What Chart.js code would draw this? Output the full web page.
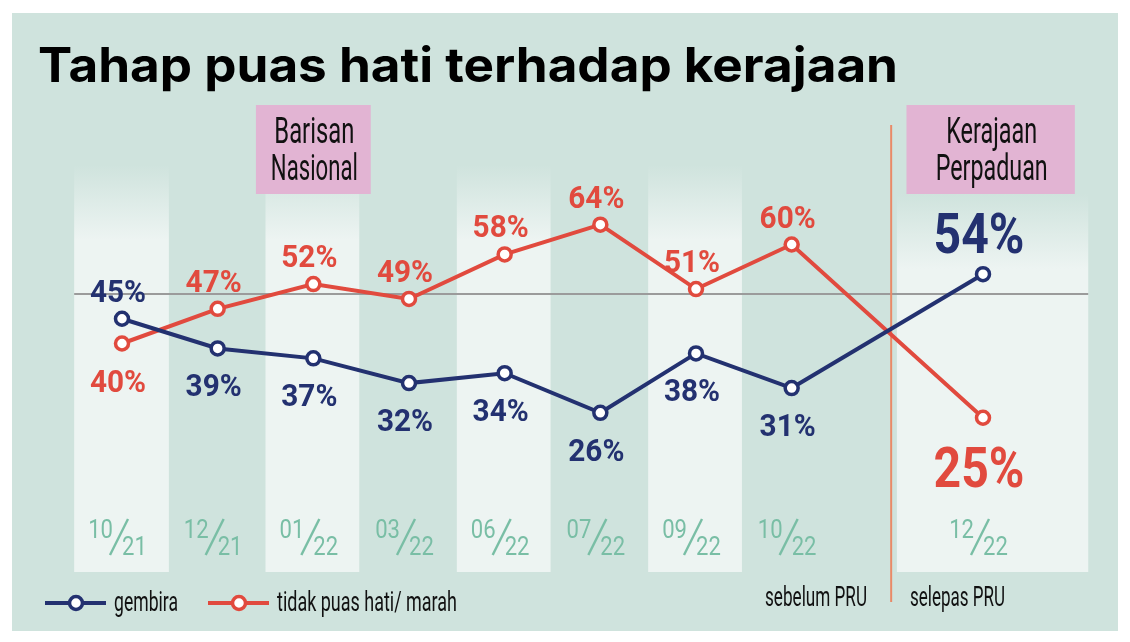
<!DOCTYPE html>
<html>
<head>
<meta charset="utf-8">
<script src="https://cdn.jsdelivr.net/npm/chart.js@4.4.1/dist/chart.umd.min.js"></script>
<style>
  html, body { margin: 0; padding: 0; background: #ffffff; }
  #wrap { width: 1130px; height: 642px; position: relative; }
</style>
</head>
<body>
<div id="wrap"><canvas id="puasChart" width="1130" height="642"></canvas></div>
<script>
// survey dates (the blank slot marks the election break)
const categories = ['10/21', '12/21', '01/22', '03/22', '06/22', '07/22', '09/22', '10/22', '', '12/22'];
const gembira = [45, 39, 37, 32, 34, 26, 38, 31, null, 54];
const tidakPuas = [40, 47, 52, 49, 58, 64, 51, 60, null, 25];
const seriesNames = ['gembira', 'tidak puas hati/ marah'];
const titleText = 'Tahap puas hati terhadap kerajaan';

const NAVY = '#233170';
const RED = '#e14a3e';
const GREEN_BG = '#cfe3dd';
const BAND = '#edf4f2';
const PINK = '#e2b4d3';
const TICK_GREEN = '#79bea5';
const SANS = 'Roboto, "Noto Sans", sans-serif';

// Columns shaded light, in category index units
const bandSpans = [[-0.5, 0.49], [1.5, 2.48], [3.5, 4.48], [5.5, 6.48], [8.1, 10.1]];

function xAt(chart, f) {
    const x = chart.scales.x;
    const p0 = x.getPixelForValue(0), p1 = x.getPixelForValue(1);
    return p0 + f * (p1 - p0);
}

// draw text squeezed/stretched horizontally (condensed look)
function fitText(ctx, text, x, y, opts) {
    const w = ctx.measureText(text).width;
    const s = opts.width ? opts.width / w : opts.scale;
    ctx.save();
    ctx.translate(x, y);
    ctx.scale(s, 1);
    ctx.textAlign = opts.align || 'left';
    ctx.fillText(text, 0, 0);
    ctx.restore();
}

function pinkBox(ctx, left, right, lines, widths) {
    ctx.fillStyle = PINK;
    ctx.fillRect(left, 105, right - left, 89);
    ctx.fillStyle = '#111';
    ctx.font = '36px ' + SANS;
    ctx.textBaseline = 'alphabetic';
    const cx = (left + right) / 2 + 1;
    fitText(ctx, lines[0], cx, 143, { width: widths[0], align: 'center' });
    fitText(ctx, lines[1], cx, 180, { width: widths[1], align: 'center' });
}

const backdrop = {
    id: 'backdrop',
    beforeDraw(chart) {
        const ctx = chart.ctx;
        const y = chart.scales.y;
        ctx.save();
        ctx.fillStyle = '#ffffff';
        ctx.fillRect(0, 0, chart.width, chart.height);
        ctx.fillStyle = GREEN_BG;
        ctx.fillRect(12, 13, 1106, 618);

        // light columns
        bandSpans.forEach(([a, b], i) => {
            const left = xAt(chart, a), right = xAt(chart, b);
            const top = i === bandSpans.length - 1 ? 194 : 165;
            const g = ctx.createLinearGradient(0, top, 0, top + 75);
            g.addColorStop(0, GREEN_BG);
            g.addColorStop(1, BAND);
            ctx.fillStyle = g;
            ctx.fillRect(left, top, right - left, 572 - top);
        });

        // party boxes
        pinkBox(ctx, xAt(chart, 1.4), xAt(chart, 2.6), ['Barisan', 'Nasional'], [80, 87]);
        pinkBox(ctx, xAt(chart, 8.2), xAt(chart, 9.96), ['Kerajaan', 'Perpaduan'], [91, 112]);

        // 50% reference line
        ctx.strokeStyle = '#9b9b9b';
        ctx.lineWidth = 2;
        ctx.beginPath();
        ctx.moveTo(xAt(chart, -0.5), y.getPixelForValue(50));
        ctx.lineTo(xAt(chart, 10.1), y.getPixelForValue(50));
        ctx.stroke();

        // election divider
        ctx.strokeStyle = '#e98a68';
        ctx.lineWidth = 2;
        ctx.beginPath();
        ctx.moveTo(xAt(chart, 8.04), 125);
        ctx.lineTo(xAt(chart, 8.04), 602);
        ctx.stroke();
        ctx.restore();
    },
    afterDatasetsDraw(chart) {
        const ctx = chart.ctx;
        const sets = chart.data.datasets;
        ctx.save();
        ctx.textBaseline = 'alphabetic';

        // value labels: above when the series is the higher one
        sets.forEach((ds, di) => {
            const other = sets[1 - di].data;
            const meta = chart.getDatasetMeta(di);
            ds.data.forEach((v, i) => {
                if (v === null) return;
                const pt = meta.data[i];
                const above = v > other[i];
                const big = i === ds.data.length - 1;
                ctx.fillStyle = ds.borderColor;
                ctx.font = 'bold ' + (big ? 56 : 31) + 'px ' + SANS;
                let by;
                if (big) by = above ? pt.y - 21 : pt.y + 69;
                else by = above ? pt.y - 17 : pt.y + 48;
                fitText(ctx, v + '%', pt.x - 4, by, { scale: big ? 0.86 : 0.96, align: 'center' });
            });
        });

        // date ticks drawn as fractions
        chart.data.labels.forEach((lab, i) => {
            if (!lab) return;
            const [num, den] = lab.split('/');
            const cx = xAt(chart, i) - 5;
            ctx.fillStyle = TICK_GREEN;
            ctx.strokeStyle = TICK_GREEN;
            ctx.font = '26px ' + SANS;
            fitText(ctx, num, cx - 4, 538, { scale: 0.85, align: 'right' });
            fitText(ctx, den, cx + 5, 555, { scale: 0.85, align: 'left' });
            ctx.lineWidth = 2.4;
            ctx.beginPath();
            ctx.moveTo(cx - 7, 555);
            ctx.lineTo(cx + 11, 519);
            ctx.stroke();
        });

        // legend
        const legendX = [45, 208];
        const legendW = [64, 180];
        sets.forEach((ds, di) => {
            const x0 = legendX[di];
            ctx.strokeStyle = ds.borderColor;
            ctx.lineWidth = 4;
            ctx.beginPath();
            ctx.moveTo(x0, 603);
            ctx.lineTo(x0 + 61, 603);
            ctx.stroke();
            ctx.beginPath();
            ctx.arc(x0 + 31, 603, 6.5, 0, Math.PI * 2);
            ctx.fillStyle = '#ffffff';
            ctx.fill();
            ctx.lineWidth = 3.5;
            ctx.stroke();
            ctx.fillStyle = '#111';
            ctx.font = '27px ' + SANS;
            fitText(ctx, ds.label, x0 + 69, 611, { width: legendW[di] });
        });

        // before / after election notes
        ctx.fillStyle = '#111';
        ctx.font = '27px ' + SANS;
        fitText(ctx, 'sebelum PRU', 765, 606, { width: 102 });
        fitText(ctx, 'selepas PRU', 910, 606, { width: 95 });

        // title
        ctx.fillStyle = '#000';
        ctx.font = 'bold 48px Inter, "Open Sans", sans-serif';
        fitText(ctx, titleText, 38, 82, { width: 860 });
        ctx.restore();
    }
};

const data = {
    labels: categories,
    datasets: [{
        label: seriesNames[0],
        data: gembira,
        borderColor: NAVY,
        backgroundColor: '#ffffff',
        pointBorderColor: NAVY,
        pointBackgroundColor: '#ffffff',
        borderWidth: 4,
        pointRadius: 6.5,
        pointBorderWidth: 3.5,
        spanGaps: true,
        clip: false
    }, {
        label: seriesNames[1],
        data: tidakPuas,
        borderColor: RED,
        backgroundColor: '#ffffff',
        pointBorderColor: RED,
        pointBackgroundColor: '#ffffff',
        borderWidth: 4,
        pointRadius: 6.5,
        pointBorderWidth: 3.5,
        spanGaps: true,
        clip: false
    }]
};

const config = {
    type: 'line',
    data: data,
    options: {
        responsive: false,
        animation: false,
        layout: { padding: { left: 122, right: 147, top: 195, bottom: 150 } },
        scales: {
            x: { display: false },
            y: { display: false, min: 10, max: 70 }
        },
        plugins: {
            legend: { display: false },
            tooltip: { enabled: false }
        }
    },
    plugins: [backdrop]
};

const ctx = document.getElementById('puasChart').getContext('2d');
const puasChart = new Chart(ctx, config);
</script>
</body>
</html>
